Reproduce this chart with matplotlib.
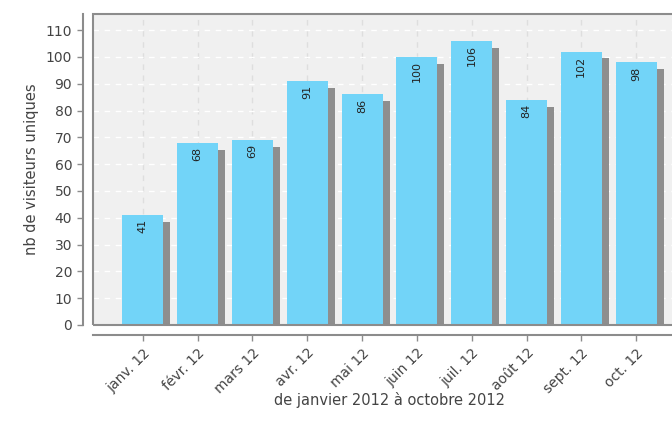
import matplotlib.pyplot as plt
import matplotlib.patheffects as pe
from matplotlib.patches import Rectangle

months = ["janv. 12", "févr. 12", "mars 12", "avr. 12", "mai 12",
          "juin 12", "juil. 12", "août 12", "sept. 12", "oct. 12"]
visitors = [41, 68, 69, 91, 86, 100, 106, 84, 102, 98]
y_ticks = list(range(0, 111, 10))

BAR_COLOR = "#72d4f8"
SHADOW_COLOR = "#8e8e8e"
AXIS_COLOR = "#8c8c8c"
TEXT_COLOR = "#444444"


def save_visitors_chart() -> None:
    fig = plt.figure(figsize=(6.72, 4.33), dpi=100)
    ax = fig.add_axes([93 / 672, 108 / 433, 593 / 672, 311 / 433])
    ax.set_facecolor("#f0f0f0")

    x = list(range(len(months)))
    ax.set_axisbelow(True)
    ax.yaxis.grid(True, color="white", linestyle=(0, (4, 4)), linewidth=1)
    ax.xaxis.grid(True, color="#dedede", linestyle=(0, (4, 4)), linewidth=1)

    bars = ax.bar(x, visitors, width=0.75, color=BAR_COLOR, linewidth=0, zorder=3)
    for bar in bars:
        bar.set_path_effects([
            pe.SimplePatchShadow(offset=(5, -5), shadow_rgbFace=SHADOW_COLOR, alpha=1.0),
            pe.Normal(),
        ])

    for xi, v in zip(x, visitors):
        ax.annotate(str(v), (xi, v), xytext=(0, -3), textcoords="offset points",
                    rotation=90, ha="center", va="top", fontsize=8,
                    color="#222222", zorder=4)

    ax.set_xlim(-0.91, len(months) - 1 + 0.91)
    ax.set_ylim(0, 116)
    ax.set_yticks(y_ticks)
    ax.set_xticks(x)

    for side in ["top", "right"]:
        ax.spines[side].set_visible(False)
    for side in ["left", "bottom"]:
        ax.spines[side].set_position(("outward", 7))
        ax.spines[side].set_color(AXIS_COLOR)
        ax.spines[side].set_linewidth(1.5)

    ax.add_patch(Rectangle((0, 0), 1, 1, transform=ax.transAxes, fill=False,
                           edgecolor=AXIS_COLOR, linewidth=1.5, clip_on=False, zorder=5))

    ax.tick_params(axis="both", colors=AXIS_COLOR, length=4, width=1,
                   labelcolor=TEXT_COLOR, labelsize=10)
    ax.tick_params(axis="y", pad=4)
    ax.tick_params(axis="x", pad=4)
    ax.set_xticklabels(months)
    plt.setp(ax.get_xticklabels(), rotation=45, ha="right", rotation_mode="anchor")

    ax.set_ylabel("nb de visiteurs uniques", fontsize=10.5, color=TEXT_COLOR, labelpad=5)
    ax.set_xlabel("de janvier 2012 à octobre 2012", fontsize=10.5, color=TEXT_COLOR)
    ax.xaxis.set_label_coords(0.5, -0.215)

    fig.savefig("out.png", dpi=100)
    plt.close(fig)


def main() -> None:
    save_visitors_chart()


if __name__ == "__main__":
    main()
